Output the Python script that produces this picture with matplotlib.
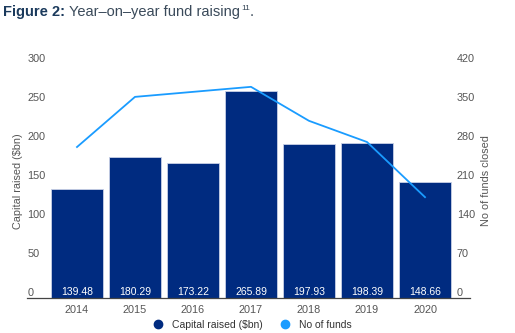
import matplotlib.pyplot as plt
from matplotlib.lines import Line2D

plt.rcParams['font.family'] = ['Liberation Sans', 'DejaVu Sans']

years = ['2014', '2015', '2016', '2017', '2018', '2019', '2020']
capital = [139.48, 180.29, 173.22, 265.89, 197.93, 198.39, 148.66]
n_funds = [271, 361, 370, 379, 318, 280, 181]

left_ticks = [0, 50, 100, 150, 200, 250, 300]
right_ticks = [0, 70, 140, 210, 280, 350, 420]

NAVY = '#002b80'
SKY = '#1a9cff'
GREY = '#555555'

W, H = 515, 333
fig = plt.figure(figsize=(W / 100, H / 100), dpi=100)
ax = fig.add_axes([48 / W, 1 - 298 / H, 406 / W, 234 / H])
ax2 = ax.twinx()

x = range(len(years))
bars = ax.bar(x, capital, width=0.9, color=NAVY, edgecolor='#c8d0e6', linewidth=0.6, zorder=2)
for b, v in zip(bars, capital):
    ax.text(b.get_x() + b.get_width() / 2, 1.5, f'{v:.2f}', ha='center', va='bottom',
            color='white', fontsize=7.5, zorder=3)

ax2.plot(x, n_funds, color=SKY, linewidth=1.3)

ax.set_xlim(-0.5, 6.5)
ax.set_ylim(0, 300)
ax2.set_ylim(0, 420)
ax.set_xticks(list(x))
ax.set_xticklabels(years)
ax.set_yticks(left_ticks)
ax2.set_yticks(right_ticks)

for a in (ax, ax2):
    for s in a.spines.values():
        s.set_visible(False)
    a.tick_params(length=0, labelsize=7.8, labelcolor=GREY)
ax.tick_params(axis='x', pad=5)
# left labels start near the figure edge, sitting on top of their value
ax.tick_params(axis='y', pad=15)
plt.setp(ax.get_yticklabels(), ha='left', va='bottom')
ax2.tick_params(axis='y', pad=2)
plt.setp(ax2.get_yticklabels(), va='bottom')

ax.set_ylabel('Capital raised ($bn)', fontsize=7.8, color=GREY, labelpad=3)
ax2.set_ylabel('No of funds closed', fontsize=7.8, color=GREY, labelpad=4)

# baseline running under both tick columns
fig.add_artist(Line2D([27 / W, 470 / W], [1 - 298 / H] * 2, color='#444444', linewidth=0.9))

# title pieces laid out one after another
fig.canvas.draw()
r = fig.canvas.get_renderer()
ty = 1 - 12 / H
t1 = fig.text(3 / W, ty, 'Figure 2: ', fontsize=10.5, fontweight='bold', color='#1b3a5c', va='center')
x1 = t1.get_window_extent(r).x1 / W
t2 = fig.text(x1, ty, 'Year\u2013on\u2013year fund raising', fontsize=10.5, color='#3a4a5a', va='center')
x2 = t2.get_window_extent(r).x1 / W
t3 = fig.text(x2 + 0.002, ty + 0.012, '11', fontsize=6, color='#3a4a5a', va='center')
x3 = t3.get_window_extent(r).x1 / W
fig.text(x3, ty, '.', fontsize=10.5, color='#3a4a5a', va='center')

handles = [
    Line2D([], [], marker='o', linestyle='', markersize=6, color=NAVY, label='Capital raised ($bn)'),
    Line2D([], [], marker='o', linestyle='', markersize=6, color=SKY, label='No of funds'),
]
fig.legend(handles=handles, loc='center', bbox_to_anchor=(0.485, 1 - 325 / H), ncol=2, frameon=False,
           fontsize=7.5, labelcolor='#333333', handletextpad=0.3, columnspacing=1.2)

fig.savefig('out.png', dpi=100)
